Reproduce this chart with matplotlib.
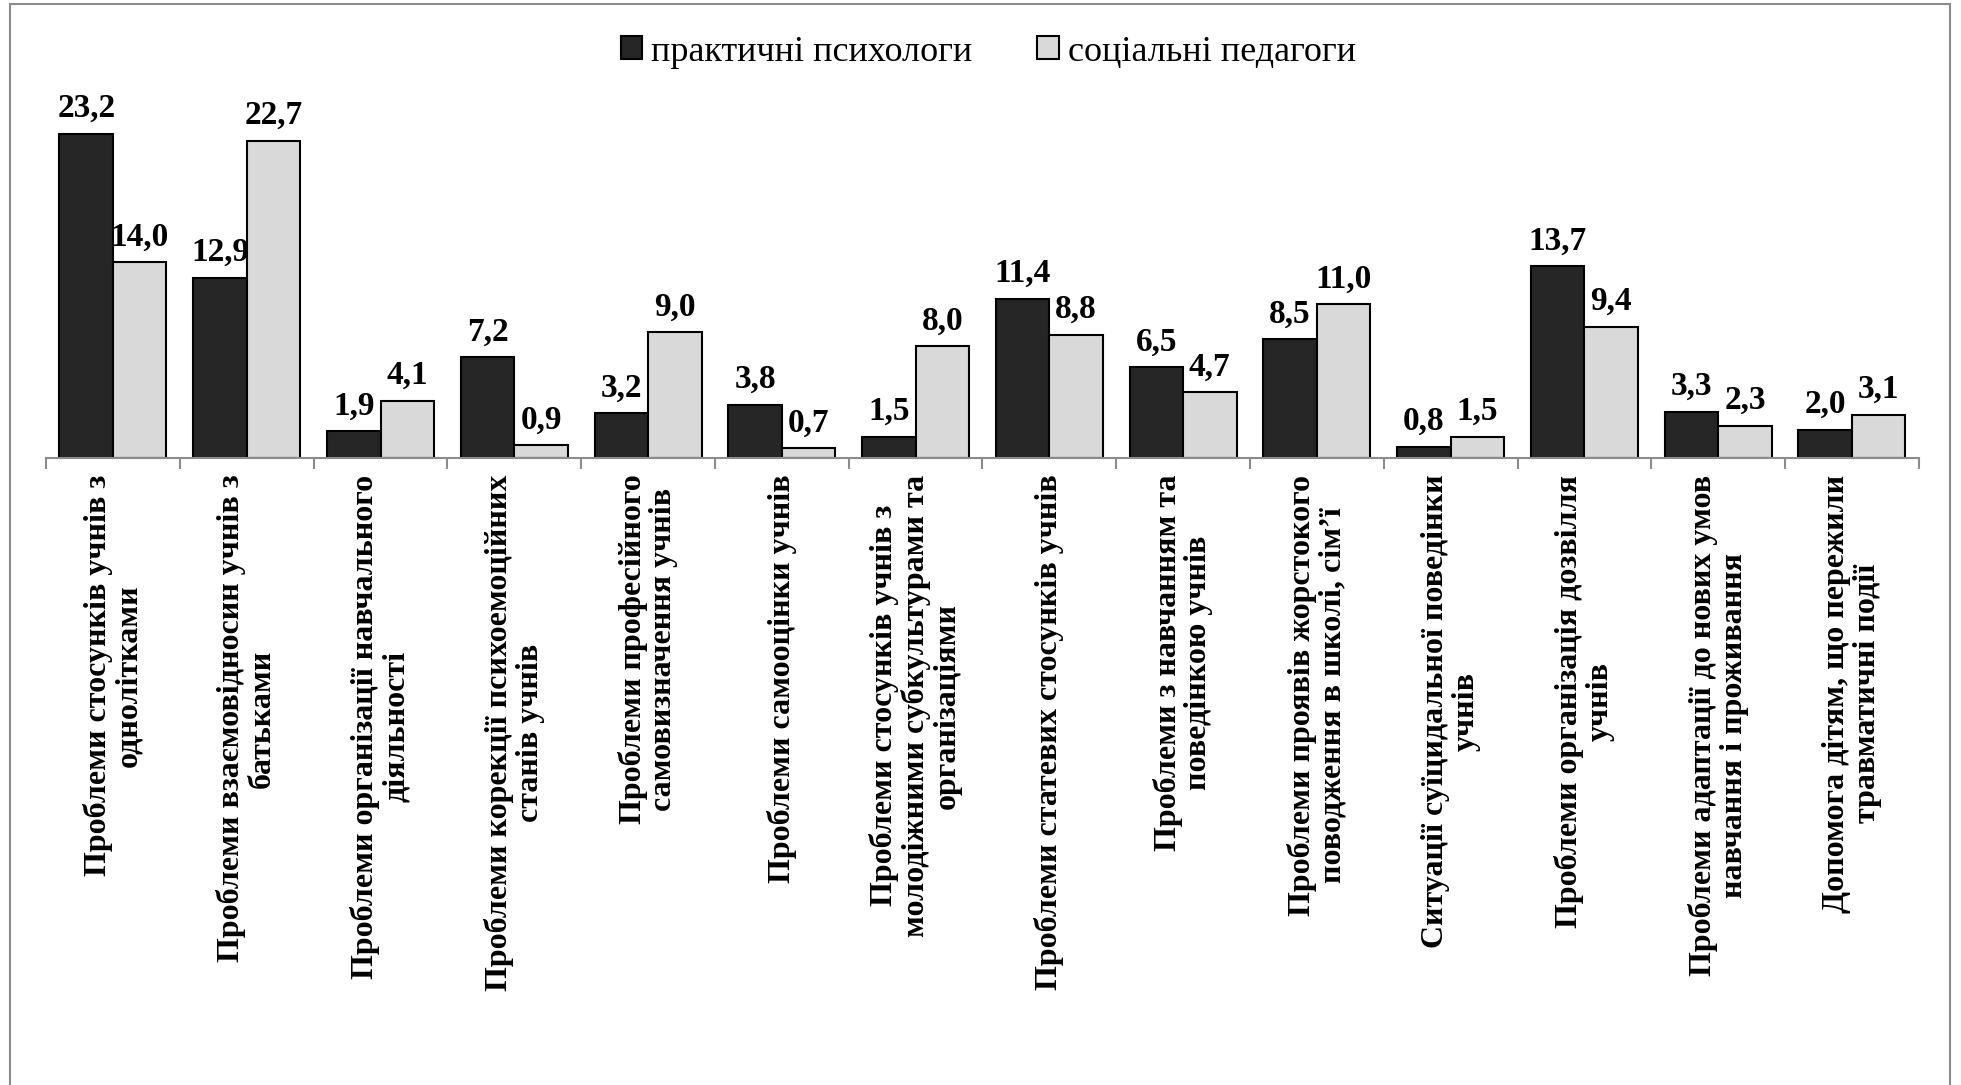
import matplotlib.pyplot as plt
from matplotlib.patches import Rectangle
import numpy as np

plt.rcParams['font.family'] = ['Liberation Serif', 'DejaVu Serif']

# Data
categories = [
    'Проблеми стосунків учнів з\nоднолітками',
    'Проблеми взаємовідносин учнів з\nбатьками',
    'Проблеми організації навчального\nдіяльності',
    'Проблеми корекції психоемоційних\nстанів учнів',
    'Проблеми професійного\nсамовизначення учнів',
    'Проблеми самооцінки учнів',
    'Проблеми стосунків учнів з\nмолодіжними субкультурами та\nорганізаціями',
    'Проблеми статевих стосунків учнів',
    'Проблеми з навчанням та\nповедінкою учнів',
    'Проблеми проявів жорстокого\nповодження в школі, сім’ї',
    'Ситуації суїцидальної поведінки\nучнів',
    'Проблеми організація дозвілля\nучнів',
    'Проблеми адаптації до нових умов\nнавчання і проживання',
    'Допомога дітям, що пережили\nтравматичні події',
]
psychologists = [23.2, 12.9, 1.9, 7.2, 3.2, 3.8, 1.5, 11.4, 6.5, 8.5, 0.8, 13.7, 3.3, 2.0]
pedagogues = [14.0, 22.7, 4.1, 0.9, 9.0, 0.7, 8.0, 8.8, 4.7, 11.0, 1.5, 9.4, 2.3, 3.1]
series_names = ['практичні психологи', 'соціальні педагоги']

fig = plt.figure(figsize=(19.61, 10.85), dpi=100)
ax = fig.add_axes([0.0235, 0.578, 0.955, 0.322])

x = np.arange(len(categories))
w = 0.4
b1 = ax.bar(x - w / 2, psychologists, w, color='#262626', edgecolor='black', linewidth=1.5, label=series_names[0])
b2 = ax.bar(x + w / 2, pedagogues, w, color='#d9d9d9', edgecolor='black', linewidth=1.5, label=series_names[1])

for bars, vals in [(b1, psychologists), (b2, pedagogues)]:
    for bar, v in zip(bars, vals):
        ax.annotate(f'{v:.1f}'.replace('.', ','), (bar.get_x() + bar.get_width() / 2, v),
                    xytext=(0, 7), textcoords='offset points', ha='center', va='bottom',
                    fontsize=24, fontweight='bold')

ax.set_xlim(-0.5, len(categories) - 0.5)
ax.set_ylim(0, 25)
ax.set_yticks([])
for s in ['top', 'right', 'left']:
    ax.spines[s].set_visible(False)
ax.spines['bottom'].set_color('#8c8c8c')
ax.spines['bottom'].set_linewidth(1.5)

# tick marks between groups
ax.set_xticks(np.arange(-0.5, len(categories)), minor=False)
ax.set_xticklabels([])
ax.tick_params(axis='x', length=8, width=1.5, color='#8c8c8c', direction='out')

for i, lab in enumerate(categories):
    ax.text(i, -1.2, lab, rotation=90, ha='center', va='top', multialignment='center',
            fontsize=23, fontweight='bold', linespacing=1.08)

fig.legend(loc='center', bbox_to_anchor=(0.504, 0.952), ncol=2, frameon=False,
           fontsize=26, handlelength=0.6, handleheight=0.6, handletextpad=0.25,
           columnspacing=1.8)

# outer frame
fig.patches.append(Rectangle((10 / 1961, -0.01), 1940 / 1961, 1.01 - 4 / 1085,
                             transform=fig.transFigure, fill=False,
                             edgecolor='#8c8c8c', linewidth=1.5))

plt.savefig('out.png', dpi=100)
